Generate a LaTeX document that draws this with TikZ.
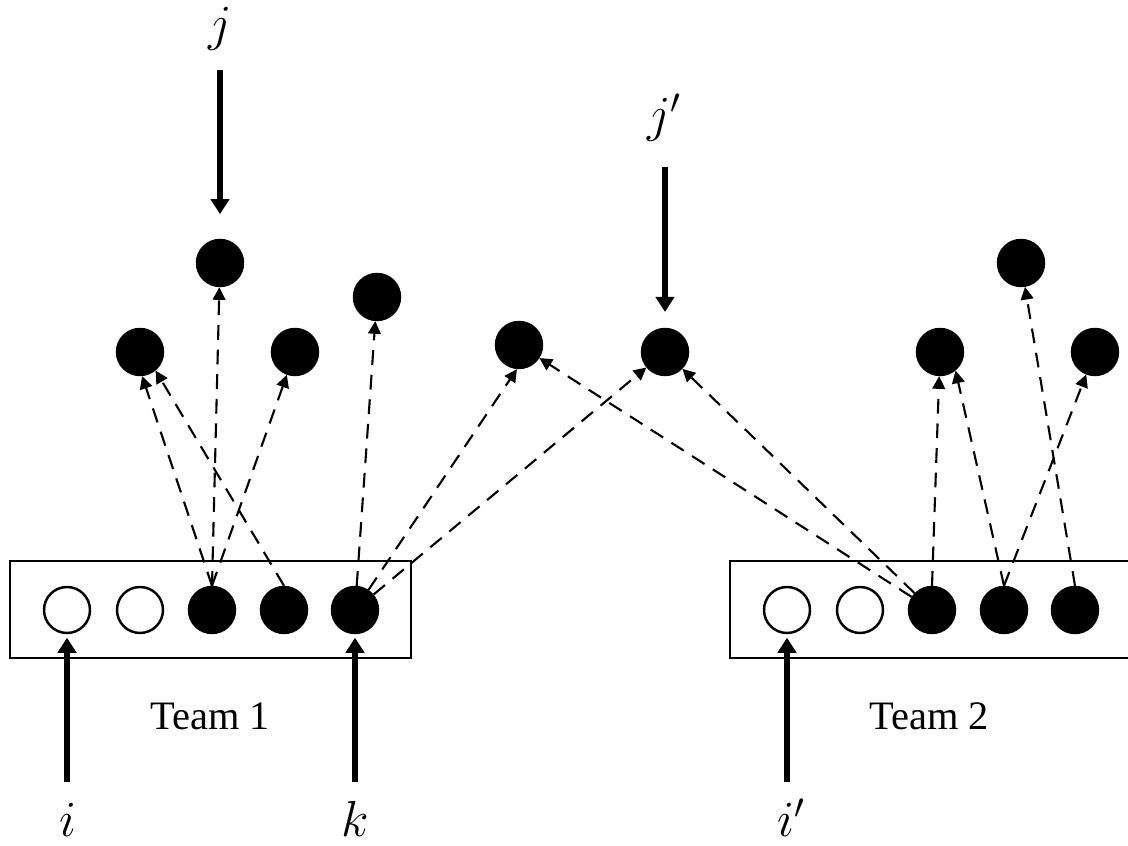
\documentclass[tikz,border=0pt]{standalone}
\usepackage{fontspec}
\setmainfont{Liberation Serif}
\usetikzlibrary{arrows.meta}

\begin{document}
\begin{tikzpicture}[
member/.style ={circle, draw, line width=0.7pt, fill=white,
  minimum size=0.46cm, inner sep=0pt
},
busy/.style ={member, fill=black},
team/.style ={rectangle, draw, line width=0.7pt,
  minimum width=4.01cm, minimum height=0.97cm
},
link/.style ={-{Triangle[length=3.6pt,width=3.6pt]}, line width=0.6pt,
  dash pattern=on 4.2pt off 2.8pt
},
pointer/.style ={-{Triangle[length=4.3pt,width=5.2pt]}, line width=1.7pt},
varname/.style ={font=\Large, anchor=base, inner sep=0pt}
]
\useasboundingbox (0,0) rectangle (11.28,8.46);
% teams
\node (box1) at (2.105,2.365) [team] {};
\node (box2) at (9.305,2.365) [team] {};
\node (name1) at (2.10,1.16) [anchor=base, font=\fontsize{11.5}{13}\selectfont] {Team 1};
\node (name2) at (9.29,1.16) [anchor=base, font=\fontsize{11.5}{13}\selectfont] {Team 2};
\node (u1) at (0.67,2.36) [member] {};
\node (u2) at (1.40,2.36) [member] {};
\node (u3) at (2.12,2.36) [busy] {};
\node (u4) at (2.84,2.36) [busy] {};
\node (u5) at (3.55,2.36) [busy] {};
\node (v1) at (7.87,2.36) [member] {};
\node (v2) at (8.60,2.36) [member] {};
\node (v3) at (9.32,2.36) [busy] {};
\node (v4) at (10.04,2.36) [busy] {};
\node (v5) at (10.75,2.36) [busy] {};
% projects
\node (p1) at (2.20,5.83) [busy] {};
\node (p2) at (1.40,4.94) [busy] {};
\node (p3) at (2.95,4.94) [busy] {};
\node (p4) at (3.77,5.49) [busy] {};
\node (p5) at (5.19,5.01) [busy] {};
\node (p6) at (6.65,4.94) [busy] {};
\node (p7) at (9.40,4.94) [busy] {};
\node (p8) at (10.21,5.83) [busy] {};
\node (p9) at (10.95,4.94) [busy] {};
% workers and projects
\node (j) at (2.20,8.05) [varname] {$j$};
\node (jp) at (6.65,7.14) [varname] {$j'$};
\node (i) at (0.68,0.09) [varname] {$i$};
\node (k) at (3.55,0.09) [varname] {$k$};
\node (ip) at (7.92,0.09) [varname] {$i'$};
\coordinate (jin) at (2.20,7.76);
\coordinate (jpin) at (6.65,6.79);
\coordinate (iin) at (0.67,0.64);
\coordinate (kin) at (3.55,0.64);
\coordinate (ipin) at (7.87,0.64);
\draw[pointer, shorten >=7pt] (jin) -- (p1.north);
\draw[pointer, shorten >=4.5pt] (jpin) -- (p6.north);
\draw[pointer, shorten >=1pt] (iin) -- (u1.south);
\draw[pointer, shorten >=1pt] (kin) -- (u5.south);
\draw[pointer, shorten >=1pt] (ipin) -- (v1.south);
% assignments
\draw[link] (u3.north) -- (p1);
\draw[link] (u3.north) -- (p2.-85);
\draw[link] (u3.north) -- (p3);
\draw[link] (u4.north) -- (p2.-50);
\draw[link] (u5) -- (p4);
\draw[link] (u5) -- (p5.-95);
\draw[link] (u5) -- (p6);
\draw[link] (v3) -- (p5);
\draw[link] (v3) -- (p6);
\draw[link] (v3.north) -- (p7);
\draw[link] (v4.north) -- (p7.-50);
\draw[link] (v4.north) -- (p9);
\draw[link] (v5.north) -- (p8);
\end{tikzpicture}
\end{document}
